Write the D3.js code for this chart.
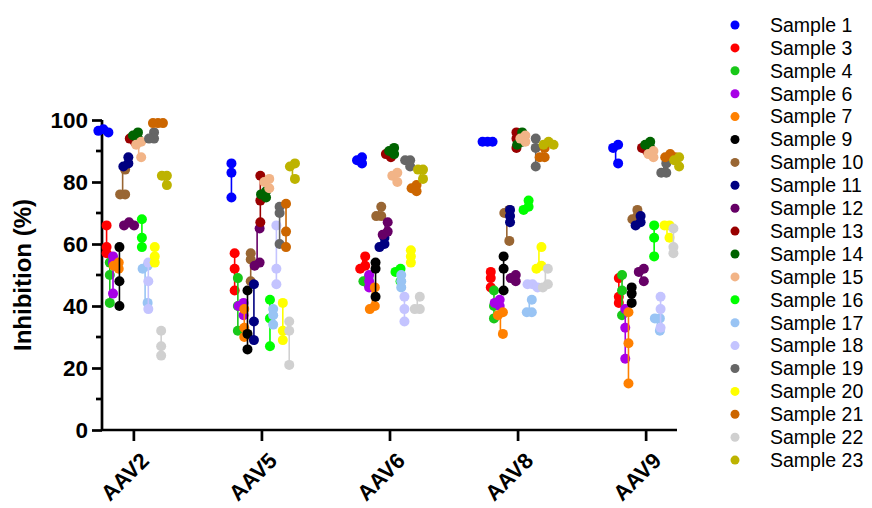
<!DOCTYPE html>
<html>
<head>
<meta charset="utf-8">
<script src="https://cdn.jsdelivr.net/npm/d3@7"></script>
<style>
  body { margin: 0; background: #fff; }
  svg { display: block; font-family: Arial, "Liberation Sans", sans-serif; }
</style>
</head>
<body>
<div id="chart"></div>
<script>
var groups = ["AAV2", "AAV5", "AAV6", "AAV8", "AAV9"];
var samples = ["Sample 1", "Sample 3", "Sample 4", "Sample 6", "Sample 7", "Sample 9", "Sample 10",
               "Sample 11", "Sample 12", "Sample 13", "Sample 14", "Sample 15", "Sample 16", "Sample 17",
               "Sample 18", "Sample 19", "Sample 20", "Sample 21", "Sample 22", "Sample 23"];
var sampleColors = ["#0000ff", "#ff0000", "#19c819", "#a800e6", "#ff8000", "#000000", "#996633",
                    "#000080", "#660066", "#990000", "#006400", "#f2b487", "#00ff00", "#99c4f4",
                    "#c4c4ff", "#666666", "#ffff00", "#cc6600", "#d0d0d0", "#bdb300"];
var yTicks = [0, 20, 40, 60, 80, 100];

// triplicates per sample, same order as samples[]
var valsAAV2 = [[97,96.5,96],[66,59,57],[54,50,41],[56,54,44],[54,53,52],[59,48,40],[84,76,76],
                [88,86,85],[67,66,66],[95,94,93],[96,95,94],[93,92,88],[68,62,59],[53,52,41],
                [54,48,39],[96,94,94],[59,56,54],[99,99,99],[32,27,24],[82,82,79]];
var valsAAV5 = [[86,83,75],[57,52,45],[49,40,32],[41,40,37],[39,33,30],[45,31,26],[57,55,48],
                [47,35,29],[65,54,53],[82,74,67],[77,76,75],[81,80,78],[42,36,27],[39,37,34],
                [66,52,47],[72,70,60],[41,32,29],[73,64,59],[35,32,21],[86,85,81]];
var valsAAV6 = [[88,87,86],[56,53,52],[49,48,47],[50,48,46],[46,40,39],[54,52,43],[72,69,69],
                [62,60,59],[67,64,63],[90,89,88],[91,90,89],[83,82,80],[52,51,48],[50,48,46],
                [43,39,35],[87,87,85],[58,56,54],[79,78,77],[43,39,39],[84,84,81]];
var valsAAV8 = [[93,93,93],[51,49,46],[45,40,36],[42,41,40],[38,37,31],[56,52,45],[71,70,61],
                [71,69,67],[50,49,48],[96,94,91],[96,93,92],[95,94,93],[74,72,71],[42,38,38],
                [47,47,46],[94,91,85],[59,53,52],[91,88,88],[52,47,46],[93,92,92]];
var valsAAV9 = [[92,91,86],[49,43,41],[50,45,37],[39,33,23],[38,28,15],[46,44,41],[71,69,68],
                [69,67,66],[52,51,48],[92,91,90],[93,92,91],[90,89,88],[66,62,56],[36,36,32],
                [43,39,33],[86,83,83],[66,66,62],[89,88,88],[65,59,57],[88,87,85]];
var groupVals = [valsAAV2, valsAAV5, valsAAV6, valsAAV8, valsAAV9];

var width = 872, height = 508;
var r = 5;

var svg = d3.select("#chart").append("svg")
    .attr("width", width)
    .attr("height", height);

var x = d3.scalePoint().domain(groups).range([102, 677]).padding(0.245);
var y = d3.scaleLinear().domain([0, 100]).range([430, 120]);
// spread of samples inside one group
var xs = d3.scalePoint().domain(samples).range([-30, 31]);

// axes
var yAxis = svg.append("g")
    .attr("transform", "translate(102,0)")
    .call(d3.axisLeft(y).tickValues(yTicks).tickSize(10).tickPadding(4));
yAxis.select(".domain").attr("d", "M0," + y(0) + "V" + y(100));
yAxis.selectAll(".tick line").attr("stroke-width", 2.7);
yAxis.selectAll(".tick text").attr("font-size", 22.5).attr("font-weight", "bold").attr("fill", "#000");

// minor ticks
svg.append("g").selectAll("line")
    .data(d3.range(10, 100, 20))
    .enter().append("line")
    .attr("x1", 102).attr("x2", 96)
    .attr("y1", function (d) { return y(d); })
    .attr("y2", function (d) { return y(d); })
    .attr("stroke", "#000").attr("stroke-width", 2.7);

var xAxis = svg.append("g")
    .attr("transform", "translate(0,430)")
    .call(d3.axisBottom(x).tickSize(11).tickFormat(""));
xAxis.select(".domain").attr("d", "M102,0H677");
xAxis.selectAll(".tick line").attr("stroke-width", 2.7);

svg.selectAll(".domain").attr("stroke-width", 2.7).attr("stroke", "#000");

svg.append("g").selectAll("text")
    .data(groups)
    .enter().append("text")
    .attr("transform", function (d) { return "translate(" + (x(d) + 17) + ",462) rotate(-45)"; })
    .attr("text-anchor", "end")
    .attr("font-size", 22)
    .attr("font-weight", "bold")
    .text(function (d) { return d; });

svg.append("text")
    .attr("transform", "translate(31," + ((y(0) + y(100)) / 2) + ") rotate(-90)")
    .attr("text-anchor", "middle")
    .attr("font-size", 24)
    .attr("font-weight", "bold")
    .text("Inhibition (%)");

// place triplicates side by side when they would overlap
function spread(vals) {
    var pts = vals.map(function (v) { return { v: v, py: y(v), dx: 0 }; })
        .sort(function (a, b) { return a.py - b.py; });
    var steps = [0, -2.5, 2.5, -5, 5, -7.5, 7.5];
    var placed = [];
    pts.forEach(function (p) {
        for (var k = 0; k < steps.length; k++) {
            var ok = placed.every(function (q) {
                var ddx = steps[k] - q.dx, ddy = p.py - q.py;
                return Math.sqrt(ddx * ddx + ddy * ddy) >= 5;
            });
            if (ok) { p.dx = steps[k]; break; }
        }
        placed.push(p);
    });
    var ext = d3.extent(pts, function (p) { return p.dx; });
    var mid = (ext[0] + ext[1]) / 2;
    pts.forEach(function (p) { p.dx -= mid; });
    return pts;
}

var plot = svg.append("g");
samples.forEach(function (s, i) {
    groups.forEach(function (g, gi) {
        var vals = groupVals[gi][i];
        var cx = x(g) + xs(s);
        var sg = plot.append("g");
        sg.append("line")
            .attr("x1", cx).attr("x2", cx)
            .attr("y1", y(d3.max(vals))).attr("y2", y(d3.min(vals)))
            .attr("stroke", sampleColors[i])
            .attr("stroke-width", 1.6);
        sg.selectAll("circle")
            .data(spread(vals))
            .enter().append("circle")
            .attr("cx", function (d) { return cx + d.dx; })
            .attr("cy", function (d) { return d.py; })
            .attr("r", r)
            .attr("fill", sampleColors[i]);
    });
});

// legend
var legend = svg.selectAll(".legend")
    .data(samples)
    .enter().append("g")
    .attr("class", "legend")
    .attr("transform", function (d, i) { return "translate(735," + (25 + i * 22.9) + ")"; });

legend.append("circle")
    .attr("r", 4.5)
    .attr("fill", function (d, i) { return sampleColors[i]; });

legend.append("text")
    .attr("x", 35)
    .attr("dy", "0.35em")
    .attr("font-size", 19.5)
    .text(function (d) { return d; });
</script>
</body>
</html>
